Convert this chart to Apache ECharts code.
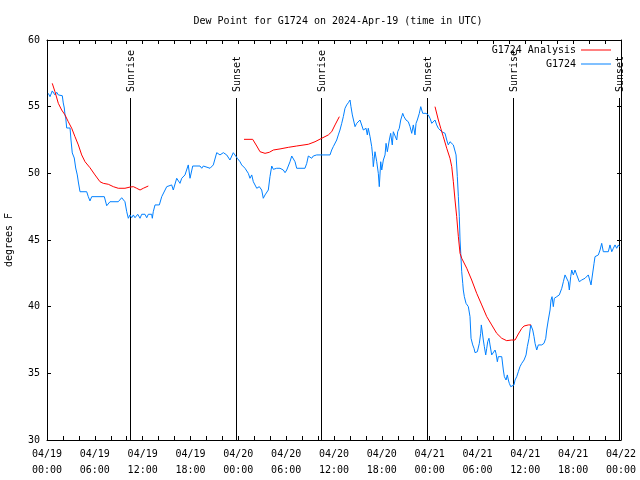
<!DOCTYPE html>
<html><head><meta charset="utf-8">
<script src="https://cdn.jsdelivr.net/npm/echarts@6/dist/echarts.min.js"></script>
<style>html,body{margin:0;padding:0;background:#fff}#c{width:640px;height:480px}</style>
</head><body><div id="c"></div>
<script>
// hours since 2024-04-19 00:00 UTC
const xTickLabels = ["04/19\n00:00","04/19\n06:00","04/19\n12:00","04/19\n18:00","04/20\n00:00","04/20\n06:00","04/20\n12:00","04/20\n18:00","04/21\n00:00","04/21\n06:00","04/21\n12:00","04/21\n18:00","04/22\n00:00"];
const sunTimes = [10.41, 23.71, 34.37, 47.67, 58.46, 71.75];
const sunLabels = ["Sunrise","Sunset","Sunrise","Sunset","Sunrise","Sunset"];

const obsHours = [0.16,0.38,0.66,0.79,1.00,1.22,1.42,1.63,1.92,2.04,2.17,2.26,2.35,2.47,2.67,2.89,3.01,3.17,3.42,3.60,3.80,3.93,4.14,4.98,5.18,5.39,5.61,6.02,7.19,7.49,7.69,7.90,8.53,8.74,8.94,9.37,9.78,10.00,10.20,10.41,10.62,10.83,11.04,11.38,11.67,11.88,12.29,12.51,12.71,13.13,13.21,13.33,13.55,14.09,14.39,15.02,15.64,15.84,16.27,16.68,16.90,17.31,17.72,17.94,18.28,19.19,19.41,19.61,20.45,20.86,21.29,21.70,22.12,22.54,22.95,23.37,23.58,23.87,24.21,24.42,24.62,24.84,25.05,25.25,25.46,25.68,25.88,26.09,26.31,26.63,26.93,27.13,27.35,27.56,27.76,27.97,28.19,28.39,28.81,29.23,29.64,29.86,30.07,30.27,30.48,30.70,30.90,31.11,31.32,32.36,32.58,32.78,32.99,33.20,33.40,33.83,35.50,35.71,35.91,36.13,36.34,36.54,36.75,36.97,37.17,37.38,37.59,37.80,38.01,38.13,38.30,38.51,38.64,38.85,39.05,39.26,39.48,39.68,39.89,40.02,40.18,40.30,40.52,40.73,40.86,40.93,41.14,41.36,41.56,41.68,41.86,41.99,42.19,42.40,42.53,42.69,42.94,43.11,43.31,43.44,43.65,43.87,43.99,44.19,44.37,44.62,44.78,45.03,45.32,45.54,45.75,45.95,46.16,46.29,46.45,46.70,46.88,47.13,47.29,47.54,47.71,47.83,48.04,48.26,48.46,48.67,48.88,49.09,49.30,49.51,49.71,49.93,50.14,50.34,50.55,50.77,50.97,51.18,51.31,51.47,51.60,51.72,51.81,51.90,52.02,52.15,52.22,52.35,52.56,52.85,53.06,53.19,53.40,53.56,53.69,53.98,54.10,54.23,54.40,54.48,54.57,54.73,54.86,55.03,55.16,55.28,55.44,55.57,55.78,55.98,56.20,56.32,56.49,56.61,56.82,57.04,57.24,57.37,57.58,57.74,57.87,57.99,58.17,58.42,58.58,58.71,58.92,59.12,59.33,59.55,59.84,60.09,60.25,60.46,60.68,60.80,60.93,61.09,61.22,61.43,61.63,62.06,62.34,62.56,62.68,62.88,63.10,63.22,63.35,63.51,63.64,63.94,64.26,64.57,64.77,64.98,65.19,65.39,65.52,65.69,65.82,66.02,66.23,66.45,66.77,67.07,67.27,67.49,67.70,67.90,68.11,68.24,68.45,68.62,68.74,68.96,69.16,69.37,69.58,69.78,70.41,70.62,70.84,71.04,71.25,71.46,71.67,71.80];
const obsDewPoint = [56.00,55.75,56.18,56.25,55.88,56.08,55.88,56.00,55.82,55.28,54.90,54.38,54.15,53.40,53.50,53.40,52.50,51.53,51.15,50.40,49.88,49.35,48.62,48.62,48.25,47.93,48.25,48.25,48.25,47.57,47.68,47.87,47.87,48.00,47.87,48.17,47.87,47.12,46.63,46.88,46.67,46.88,46.67,46.93,46.63,46.93,46.93,46.67,46.93,46.93,46.63,47.12,47.63,47.63,48.25,49.00,49.13,48.75,49.63,49.25,49.63,49.88,50.63,49.63,50.55,50.55,50.38,50.55,50.38,50.63,51.55,51.38,51.55,51.38,51.00,51.55,51.50,51.13,50.87,50.63,50.75,50.38,50.50,50.00,49.63,49.88,49.37,49.50,48.88,49.00,48.75,48.13,48.38,48.25,48.75,49.75,50.55,50.30,50.38,50.38,50.25,50.05,50.25,50.38,50.87,51.30,51.38,50.87,50.38,50.38,50.75,51.30,51.25,51.13,51.30,51.38,51.38,51.75,52.00,52.05,52.50,52.88,53.25,53.75,54.25,54.88,55.13,55.30,55.50,55.00,54.38,54.38,53.50,53.75,53.87,54.00,53.87,53.25,53.12,53.38,52.88,53.38,52.75,52.00,51.25,50.50,51.62,50.87,50.00,49.00,50.87,50.25,51.00,51.38,52.25,51.62,52.50,53.00,52.13,53.12,53.00,52.50,53.12,53.38,54.00,54.50,54.25,54.00,53.87,53.50,53.00,53.63,52.88,53.75,54.00,54.50,55.00,54.50,54.38,54.50,54.62,54.38,54.13,53.75,53.63,54.00,53.63,53.38,53.50,53.12,53.25,53.00,52.50,52.13,52.37,52.50,52.13,52.25,51.38,49.75,48.25,46.75,45.00,44.00,42.62,41.75,41.25,40.75,40.25,40.00,39.25,37.63,37.13,36.88,36.55,36.62,36.75,37.25,38.00,38.63,38.25,37.50,37.00,36.38,36.88,37.37,37.63,37.13,36.38,36.38,36.75,36.50,35.87,36.25,36.38,36.25,35.25,34.75,34.50,34.88,34.50,34.25,34.00,34.00,34.13,34.50,34.75,35.12,35.50,35.75,36.00,36.38,37.00,37.63,38.63,38.75,38.25,37.75,37.25,36.75,37.13,37.13,37.25,37.63,38.25,39.00,39.75,40.50,40.75,40.00,40.63,40.75,40.88,41.38,41.87,42.38,42.50,41.87,41.25,42.25,42.75,42.38,42.75,42.38,41.87,42.00,41.87,42.13,42.00,42.38,42.38,41.63,41.75,43.25,43.75,43.63,43.88,44.25,44.75,44.12,44.12,44.63,44.12,44.38,44.63,44.38,44.63,44.50];

const anaHours1 = [0.66,1.00,1.42,1.84,2.26,2.67,3.10,3.51,3.93,4.35,4.77,5.39,6.02,6.65,7.06,7.69,8.32,8.94,9.78,10.41,10.83,11.25,11.67,12.08,12.71];
const anaDew1   = [56.75,56.12,55.25,54.75,54.38,53.87,53.38,52.75,52.13,51.38,50.87,50.42,49.88,49.37,49.25,49.18,49.00,48.88,48.88,48.97,49.00,48.88,48.75,48.88,49.05];
const anaHours2 = [24.71,25.80,26.31,26.72,27.35,27.89,28.39,29.23,30.27,31.32,32.78,33.62,34.46,35.29,35.71,36.13,36.67];
const anaDew2   = [52.55,52.55,52.05,51.62,51.50,51.58,51.75,51.83,51.95,52.05,52.18,52.37,52.63,52.88,53.12,53.63,54.25];
const anaHours3 = [48.67,49.09,49.39,49.71,50.14,50.55,50.77,50.97,51.18,51.39,51.60,51.81,52.02,52.65,53.27,53.90,54.53,55.16,55.78,56.41,57.04,57.66,58.29,58.71,59.12,59.55,59.84,60.38,60.71];
const anaDew3   = [55.00,54.00,53.38,52.75,51.88,51.13,50.50,49.37,48.00,46.75,45.25,44.00,43.63,42.88,42.00,41.00,40.13,39.25,38.63,38.00,37.63,37.45,37.50,37.50,37.95,38.37,38.55,38.63,38.63];

const FONT = 'DejaVu Sans Mono';
const zip = (a, b) => a.map((v, i) => [v, b[i]]);
const anaData = [].concat(zip(anaHours1, anaDew1), [['-', '-']], zip(anaHours2, anaDew2), [['-', '-']], zip(anaHours3, anaDew3));
const obsData = zip(obsHours, obsDewPoint);

const chart = echarts.init(document.getElementById('c'), null, {renderer: 'canvas'});
const tickCommon = {show: true, inside: true, length: 4, lineStyle: {color: '#000', width: 1}};
const minorCommon = {show: true, splitNumber: 3, length: 4, lineStyle: {color: '#000', width: 1}};
chart.setOption({
  animation: false,
  backgroundColor: '#fff',
  title: {
    text: 'Dew Point for G1724 on 2024-Apr-19 (time in UTC)',
    left: 333, top: 11, textAlign: 'center',
    textStyle: {fontFamily: FONT, fontSize: 10, fontWeight: 'normal', color: '#000'}
  },
  legend: {
    data: ['G1724 Analysis', 'G1724'],
    orient: 'vertical', right: 29, top: 44, align: 'right',
    icon: 'rect', itemWidth: 30, itemHeight: 1, itemGap: 2,
    textStyle: {fontFamily: FONT, fontSize: 10, color: '#000', lineHeight: 12},
    padding: 0
  },
  grid: {left: 47, right: 19, top: 40, bottom: 40, containLabel: false, outerBoundsMode: 'none'},
  xAxis: [{
    type: 'value', min: 0, max: 72, interval: 6,
    axisLine: {show: true, onZero: false, lineStyle: {color: '#000', width: 1}},
    axisTick: tickCommon, minorTick: minorCommon,
    splitLine: {show: false},
    axisLabel: {fontFamily: FONT, fontSize: 10, color: '#000', lineHeight: 16, margin: 6,
      formatter: v => xTickLabels[Math.round(v / 6)] || ''}
  }, {
    type: 'value', min: 0, max: 72, interval: 6, position: 'top',
    axisLine: {show: true, onZero: false, lineStyle: {color: '#000', width: 1}},
    axisTick: tickCommon, minorTick: minorCommon,
    splitLine: {show: false}, axisLabel: {show: false}
  }],
  yAxis: [{
    type: 'value', min: 30, max: 60, interval: 5,
    name: 'degrees F', nameLocation: 'middle', nameGap: 33,
    nameTextStyle: {fontFamily: FONT, fontSize: 10, color: '#000'},
    axisLine: {show: true, onZero: false, lineStyle: {color: '#000', width: 1}},
    axisTick: tickCommon, splitLine: {show: false},
    axisLabel: {fontFamily: FONT, fontSize: 10, color: '#000', margin: 7}
  }, {
    type: 'value', min: 30, max: 60, interval: 5, position: 'right',
    axisLine: {show: true, onZero: false, lineStyle: {color: '#000', width: 1}},
    axisTick: tickCommon, splitLine: {show: false}, axisLabel: {show: false}
  }],
  series: [{
    name: 'Sun', type: 'custom', xAxisIndex: 0, yAxisIndex: 0, silent: true,
    data: sunTimes.map(t => [t, 30]),
    encode: {x: 0, y: 1},
    renderItem: (params, api) => {
      const x = Math.round(api.coord([api.value(0), 30])[0]) + 0.5;
      const bottom = params.coordSys.y + params.coordSys.height;
      return {type: 'group', children: [
        {type: 'line', shape: {x1: x, y1: bottom, x2: x, y2: 98}, style: {stroke: '#000', lineWidth: 1}},
        {type: 'text', x: x + 1, y: 92, rotation: Math.PI / 2,
          style: {text: sunLabels[params.dataIndex], font: '10px "' + FONT + '"', fill: '#000', align: 'left', verticalAlign: 'middle'}}
      ]};
    },
    z: 1
  }, {
    name: 'G1724 Analysis', type: 'line', data: anaData, symbol: 'none', connectNulls: false,
    lineStyle: {color: '#ff0000', width: 1}, itemStyle: {color: '#ff0000'}, z: 3
  }, {
    name: 'G1724', type: 'line', data: obsData, symbol: 'none',
    lineStyle: {color: '#0080ff', width: 1}, itemStyle: {color: '#0080ff'}, z: 2
  }]
});
</script></body></html>
